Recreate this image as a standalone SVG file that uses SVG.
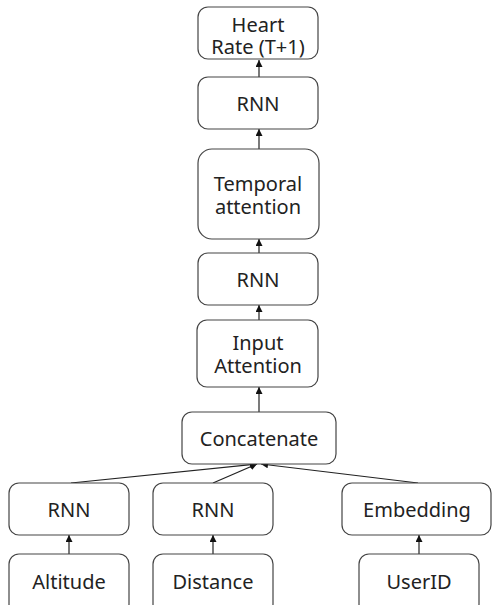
<svg xmlns="http://www.w3.org/2000/svg" width="493" height="605" viewBox="0 0 493 605">
<style>
.box{fill:#fff;stroke:#444;stroke-width:1.2}
.t{font-family:"Noto Sans","Noto Sans CJK KR",sans-serif;font-size:20px;fill:#222;text-anchor:middle}
.c{stroke:#222;stroke-width:1.2;fill:none;marker-end:url(#ah)}
</style>
<defs>
<marker id="ah" viewBox="0 0 10 10" refX="10" refY="5" markerWidth="7" markerHeight="7" markerUnits="userSpaceOnUse" orient="auto">
<path d="M0,0 L10,5 L0,10 z" fill="#111"/>
</marker>
</defs>
<rect width="493" height="605" fill="#fff"/>
<g id="connectors">
<line class="c" x1="259" y1="77" x2="259" y2="60"/>
<line class="c" x1="259" y1="149" x2="259" y2="129"/>
<line class="c" x1="259" y1="253" x2="259" y2="239"/>
<line class="c" x1="259" y1="320" x2="259" y2="305"/>
<line class="c" x1="259" y1="412" x2="259" y2="387"/>
<line class="c" x1="71" y1="483" x2="257" y2="464"/>
<line class="c" x1="213" y1="483" x2="257" y2="464"/>
<line class="c" x1="418" y1="483" x2="261" y2="464"/>
<line class="c" x1="69" y1="554" x2="69" y2="535"/>
<line class="c" x1="213" y1="554" x2="213" y2="535"/>
<line class="c" x1="419" y1="554" x2="419" y2="535"/>
</g>
<g id="heart-rate"><rect class="box" x="198" y="7" width="120" height="52" rx="10"/><text class="t" x="258" y="32">Heart</text><text class="t" x="258" y="54">Rate (T+1)</text></g>
<g id="rnn-top"><rect class="box" x="198" y="77" width="120" height="52" rx="10"/><text class="t" x="258" y="111">RNN</text></g>
<g id="temporal-attention"><rect class="box" x="198" y="149" width="121" height="90" rx="14"/><text class="t" x="258" y="191">Temporal</text><text class="t" x="258" y="214">attention</text></g>
<g id="rnn-mid"><rect class="box" x="198" y="253" width="120" height="52" rx="10"/><text class="t" x="258" y="287">RNN</text></g>
<g id="input-attention"><rect class="box" x="197" y="320" width="121" height="67" rx="10"/><text class="t" x="258" y="350">Input</text><text class="t" x="258" y="373">Attention</text></g>
<g id="concatenate"><rect class="box" x="182" y="412" width="154" height="52" rx="10"/><text class="t" x="259" y="446">Concatenate</text></g>
<g id="rnn-altitude"><rect class="box" x="9" y="483" width="120" height="52" rx="10"/><text class="t" x="69" y="517">RNN</text></g>
<g id="rnn-distance"><rect class="box" x="153" y="483" width="120" height="52" rx="10"/><text class="t" x="213" y="517">RNN</text></g>
<g id="embedding"><rect class="box" x="342" y="483" width="149" height="52" rx="10"/><text class="t" x="417" y="517">Embedding</text></g>
<g id="altitude"><rect class="box" x="9" y="554" width="120" height="60" rx="10"/><text class="t" x="69" y="589">Altitude</text></g>
<g id="distance"><rect class="box" x="153" y="554" width="120" height="60" rx="10"/><text class="t" x="213" y="589">Distance</text></g>
<g id="userid"><rect class="box" x="359" y="554" width="120" height="60" rx="10"/><text class="t" x="419" y="589">UserID</text></g>
</svg>
